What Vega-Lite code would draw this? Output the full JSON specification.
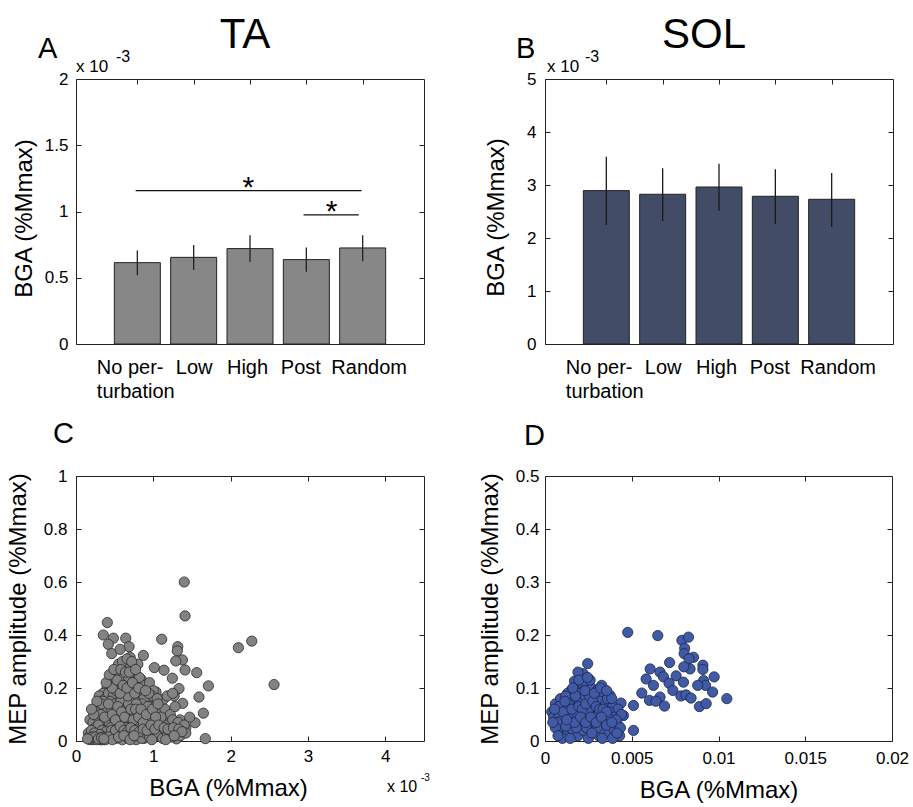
{
  "$schema": "https://vega.github.io/schema/vega-lite/v6.json",
  "background": "white",
  "padding": {"left": 5, "top": 13, "right": 5, "bottom": 2},
  "config": {
    "font": "Liberation Sans",
    "view": {"stroke": "#222", "strokeWidth": 1},
    "axis": {"grid": false, "domain": false, "tickColor": "#222", "tickSize": -5, "tickWidth": 1, "labelFont": "Liberation Sans", "labelFontSize": 17, "labelColor": "#000", "titleFont": "Liberation Sans", "titleFontSize": 24, "titleFontWeight": "normal", "titleColor": "#000", "labelFlush": false, "labelOverlap": false},
    "text": {"font": "Liberation Sans", "color": "#000"}
  },
  "datasets": {
    "bars": [
      {"muscle": "TA", "pos": 1, "cond": "No perturbation", "mean": 0.000614, "lo": 0.000518, "hi": 0.000705},
      {"muscle": "TA", "pos": 2, "cond": "Low", "mean": 0.000654, "lo": 0.000559, "hi": 0.000747},
      {"muscle": "TA", "pos": 3, "cond": "High", "mean": 0.00072, "lo": 0.000619, "hi": 0.00082},
      {"muscle": "TA", "pos": 4, "cond": "Post", "mean": 0.000637, "lo": 0.000546, "hi": 0.000728},
      {"muscle": "TA", "pos": 5, "cond": "Random", "mean": 0.000725, "lo": 0.000624, "hi": 0.00082},
      {"muscle": "SOL", "pos": 1, "cond": "No perturbation", "mean": 0.002894, "lo": 0.002245, "hi": 0.003535},
      {"muscle": "SOL", "pos": 2, "cond": "Low", "mean": 0.002825, "lo": 0.00232, "hi": 0.003315},
      {"muscle": "SOL", "pos": 3, "cond": "High", "mean": 0.002962, "lo": 0.00251, "hi": 0.003403},
      {"muscle": "SOL", "pos": 4, "cond": "Post", "mean": 0.002787, "lo": 0.002264, "hi": 0.003296},
      {"muscle": "SOL", "pos": 5, "cond": "Random", "mean": 0.00273, "lo": 0.002208, "hi": 0.003226}
    ],
    "sig": [
      {"from": 0.97, "to": 4.98, "level": 0.001158, "mid": 2.97},
      {"from": 3.95, "to": 4.93, "level": 0.000974, "mid": 4.45}
    ],
    "ta": [
      {"bga": 0.0014, "mep": 0.6}, {"bga": 0.00141, "mep": 0.472}, {"bga": 0.000405, "mep": 0.447}, {"bga": 0.000353, "mep": 0.4}, {"bga": 0.000483, "mep": 0.388}, {"bga": 0.000643, "mep": 0.388}, {"bga": 0.000686, "mep": 0.356}, {"bga": 0.000418, "mep": 0.365}, {"bga": 0.000462, "mep": 0.33}, {"bga": 0.000871, "mep": 0.323},
      {"bga": 0.001108, "mep": 0.384}, {"bga": 0.001316, "mep": 0.356}, {"bga": 0.00131, "mep": 0.34}, {"bga": 0.001376, "mep": 0.306}, {"bga": 0.00129, "mep": 0.302}, {"bga": 0.00141, "mep": 0.268}, {"bga": 0.001561, "mep": 0.258}, {"bga": 0.001013, "mep": 0.277}, {"bga": 0.001138, "mep": 0.267}, {"bga": 0.001246, "mep": 0.237},
      {"bga": 0.001712, "mep": 0.208}, {"bga": 0.00159, "mep": 0.166}, {"bga": 0.001647, "mep": 0.105}, {"bga": 0.00154, "mep": 0.069}, {"bga": 0.001672, "mep": 0.009}, {"bga": 0.00138, "mep": 0.142}, {"bga": 0.001332, "mep": 0.198}, {"bga": 0.00127, "mep": 0.17}, {"bga": 0.0021, "mep": 0.352}, {"bga": 0.002273, "mep": 0.377},
      {"bga": 0.002561, "mep": 0.213}, {"bga": 0.001035, "mep": 0.185}, {"bga": 0.00113, "mep": 0.157}, {"bga": 0.00113, "mep": 0.1}, {"bga": 0.001151, "mep": 0.082}, {"bga": 0.001044, "mep": 0.057}, {"bga": 0.00108, "mep": 0.035}, {"bga": 0.00121, "mep": 0.03}, {"bga": 0.0013, "mep": 0.008}, {"bga": 0.00095, "mep": 0.03},
      {"bga": 0.00088, "mep": 0.01}, {"bga": 0.000776, "mep": 0.005}, {"bga": 0.00142, "mep": 0.05}, {"bga": 0.001345, "mep": 0.08}, {"bga": 0.00147, "mep": 0.09}, {"bga": 0.00057, "mep": 0.346}, {"bga": 0.0007, "mep": 0.316},
      {"bga": 0.00055, "mep": 0.29}, {"bga": 0.00062, "mep": 0.27}, {"bga": 0.0007, "mep": 0.28}, {"bga": 0.00075, "mep": 0.25}, {"bga": 0.0006, "mep": 0.3}, {"bga": 0.00066, "mep": 0.31}, {"bga": 0.0008, "mep": 0.29}, {"bga": 0.00052, "mep": 0.25}, {"bga": 0.00085, "mep": 0.23}, {"bga": 0.00072, "mep": 0.3},
      {"bga": 0.00045, "mep": 0.22}, {"bga": 0.0005, "mep": 0.21}, {"bga": 0.00058, "mep": 0.23}, {"bga": 0.00064, "mep": 0.22}, {"bga": 0.0007, "mep": 0.21}, {"bga": 0.00078, "mep": 0.2}, {"bga": 0.00088, "mep": 0.21}, {"bga": 0.00095, "mep": 0.22}, {"bga": 0.001, "mep": 0.19}, {"bga": 0.0004, "mep": 0.2},
      {"bga": 0.00035, "mep": 0.18}, {"bga": 0.00062, "mep": 0.24}, {"bga": 0.00082, "mep": 0.24}, {"bga": 0.00055, "mep": 0.2}, {"bga": 0.00068, "mep": 0.24},
      {"bga": 0.0003, "mep": 0.17}, {"bga": 0.00038, "mep": 0.16}, {"bga": 0.00042, "mep": 0.18}, {"bga": 0.00048, "mep": 0.17}, {"bga": 0.00052, "mep": 0.19}, {"bga": 0.00058, "mep": 0.16}, {"bga": 0.00062, "mep": 0.18}, {"bga": 0.00066, "mep": 0.15}, {"bga": 0.00072, "mep": 0.17}, {"bga": 0.00078, "mep": 0.16},
      {"bga": 0.00085, "mep": 0.18}, {"bga": 0.00092, "mep": 0.15}, {"bga": 0.00098, "mep": 0.17}, {"bga": 0.00105, "mep": 0.16}, {"bga": 0.00118, "mep": 0.17}, {"bga": 0.00125, "mep": 0.18}, {"bga": 0.00044, "mep": 0.15}, {"bga": 0.00035, "mep": 0.15}, {"bga": 0.0007, "mep": 0.19}, {"bga": 0.00088, "mep": 0.16},
      {"bga": 0.00025, "mep": 0.12}, {"bga": 0.0003, "mep": 0.11}, {"bga": 0.00036, "mep": 0.13}, {"bga": 0.0004, "mep": 0.11}, {"bga": 0.00046, "mep": 0.12}, {"bga": 0.0005, "mep": 0.14}, {"bga": 0.00055, "mep": 0.11}, {"bga": 0.0006, "mep": 0.13}, {"bga": 0.00065, "mep": 0.12}, {"bga": 0.0007, "mep": 0.1},
      {"bga": 0.00075, "mep": 0.13}, {"bga": 0.0008, "mep": 0.11}, {"bga": 0.00085, "mep": 0.14}, {"bga": 0.0009, "mep": 0.12}, {"bga": 0.00096, "mep": 0.1}, {"bga": 0.00102, "mep": 0.13}, {"bga": 0.00108, "mep": 0.11}, {"bga": 0.00115, "mep": 0.12}, {"bga": 0.00122, "mep": 0.1}, {"bga": 0.00128, "mep": 0.13},
      {"bga": 0.00033, "mep": 0.14}, {"bga": 0.00058, "mep": 0.15}, {"bga": 0.00068, "mep": 0.14}, {"bga": 0.00078, "mep": 0.14}, {"bga": 0.00093, "mep": 0.13},
      {"bga": 0.00018, "mep": 0.08}, {"bga": 0.00022, "mep": 0.07}, {"bga": 0.00028, "mep": 0.09}, {"bga": 0.00033, "mep": 0.06}, {"bga": 0.00038, "mep": 0.08}, {"bga": 0.00043, "mep": 0.07}, {"bga": 0.00048, "mep": 0.09}, {"bga": 0.00053, "mep": 0.06}, {"bga": 0.00058, "mep": 0.08}, {"bga": 0.00063, "mep": 0.07},
      {"bga": 0.00068, "mep": 0.09}, {"bga": 0.00073, "mep": 0.06}, {"bga": 0.00078, "mep": 0.08}, {"bga": 0.00083, "mep": 0.07}, {"bga": 0.00088, "mep": 0.09}, {"bga": 0.00093, "mep": 0.06}, {"bga": 0.00098, "mep": 0.08}, {"bga": 0.00104, "mep": 0.07}, {"bga": 0.0011, "mep": 0.09}, {"bga": 0.00118, "mep": 0.06},
      {"bga": 0.00125, "mep": 0.08}, {"bga": 0.00132, "mep": 0.07}, {"bga": 0.0014, "mep": 0.06}, {"bga": 0.00025, "mep": 0.05}, {"bga": 0.00045, "mep": 0.05}, {"bga": 0.00065, "mep": 0.05}, {"bga": 0.00085, "mep": 0.05}, {"bga": 0.001, "mep": 0.05}, {"bga": 0.00056, "mep": 0.1}, {"bga": 0.00076, "mep": 0.1},
      {"bga": 0.00016, "mep": 0.03}, {"bga": 0.0002, "mep": 0.02}, {"bga": 0.00024, "mep": 0.01}, {"bga": 0.00028, "mep": 0.03}, {"bga": 0.00032, "mep": 0.005}, {"bga": 0.00036, "mep": 0.02}, {"bga": 0.0004, "mep": 0.01}, {"bga": 0.00044, "mep": 0.03}, {"bga": 0.00048, "mep": 0.02}, {"bga": 0.00052, "mep": 0.01},
      {"bga": 0.00056, "mep": 0.03}, {"bga": 0.0006, "mep": 0.005}, {"bga": 0.00064, "mep": 0.02}, {"bga": 0.00068, "mep": 0.01}, {"bga": 0.00072, "mep": 0.03}, {"bga": 0.0008, "mep": 0.02}, {"bga": 0.00085, "mep": 0.01}, {"bga": 0.0009, "mep": 0.03}, {"bga": 0.00095, "mep": 0.015}, {"bga": 0.00105, "mep": 0.02},
      {"bga": 0.00112, "mep": 0.01}, {"bga": 0.00118, "mep": 0.03}, {"bga": 0.00124, "mep": 0.015}, {"bga": 0.00135, "mep": 0.02}, {"bga": 0.00142, "mep": 0.03}, {"bga": 0.00018, "mep": 0.005}, {"bga": 0.00022, "mep": 0.005}, {"bga": 0.00027, "mep": 0.005}, {"bga": 0.0003, "mep": 0.01}, {"bga": 0.00034, "mep": 0.005},
      {"bga": 0.00038, "mep": 0.005}, {"bga": 0.00017, "mep": 0.015}, {"bga": 0.00026, "mep": 0.02},
      {"bga": 0.00032, "mep": 0.1}, {"bga": 0.00037, "mep": 0.09}, {"bga": 0.00042, "mep": 0.14}, {"bga": 0.00047, "mep": 0.1}, {"bga": 0.00051, "mep": 0.08}, {"bga": 0.00054, "mep": 0.13}, {"bga": 0.00059, "mep": 0.11}, {"bga": 0.00063, "mep": 0.09}, {"bga": 0.00067, "mep": 0.17}, {"bga": 0.00071, "mep": 0.12},
      {"bga": 0.00074, "mep": 0.08}, {"bga": 0.00077, "mep": 0.12}, {"bga": 0.00081, "mep": 0.09}, {"bga": 0.00084, "mep": 0.12}, {"bga": 0.00087, "mep": 0.07}, {"bga": 0.00091, "mep": 0.1}, {"bga": 0.00094, "mep": 0.18}, {"bga": 0.00099, "mep": 0.12}, {"bga": 0.00103, "mep": 0.09}, {"bga": 0.00106, "mep": 0.14},
      {"bga": 0.00047, "mep": 0.2}, {"bga": 0.00053, "mep": 0.23}, {"bga": 0.00057, "mep": 0.18}, {"bga": 0.00061, "mep": 0.21}, {"bga": 0.00066, "mep": 0.2}, {"bga": 0.00073, "mep": 0.22}, {"bga": 0.00076, "mep": 0.18}, {"bga": 0.00081, "mep": 0.2}, {"bga": 0.0009, "mep": 0.19}, {"bga": 0.00039, "mep": 0.22},
      {"bga": 0.00043, "mep": 0.25}, {"bga": 0.00049, "mep": 0.27}, {"bga": 0.00058, "mep": 0.27}, {"bga": 0.00064, "mep": 0.26}, {"bga": 0.00069, "mep": 0.26}, {"bga": 0.00077, "mep": 0.27}, {"bga": 0.00027, "mep": 0.15}, {"bga": 0.00023, "mep": 0.1}, {"bga": 0.0002, "mep": 0.12}, {"bga": 0.00029, "mep": 0.06},
      {"bga": 0.00034, "mep": 0.04}, {"bga": 0.00039, "mep": 0.035}, {"bga": 0.00046, "mep": 0.04}, {"bga": 0.00051, "mep": 0.04}, {"bga": 0.00057, "mep": 0.055}, {"bga": 0.00062, "mep": 0.04}, {"bga": 0.00067, "mep": 0.035}, {"bga": 0.00071, "mep": 0.05}, {"bga": 0.00076, "mep": 0.04}, {"bga": 0.00082, "mep": 0.035},
      {"bga": 0.00087, "mep": 0.045}, {"bga": 0.00092, "mep": 0.04}, {"bga": 0.00097, "mep": 0.06}, {"bga": 0.00102, "mep": 0.045}, {"bga": 0.00107, "mep": 0.06}, {"bga": 0.00114, "mep": 0.05}, {"bga": 0.00119, "mep": 0.045}, {"bga": 0.00126, "mep": 0.05}, {"bga": 0.00133, "mep": 0.045}, {"bga": 0.00137, "mep": 0.035},
      {"bga": 0.0002, "mep": 0.04}, {"bga": 0.00024, "mep": 0.03}, {"bga": 0.00031, "mep": 0.025}, {"bga": 0.00035, "mep": 0.015}, {"bga": 0.00042, "mep": 0.015}, {"bga": 0.00047, "mep": 0.005}, {"bga": 0.00055, "mep": 0.015}, {"bga": 0.00062, "mep": 0.02}, {"bga": 0.0007, "mep": 0.005}, {"bga": 0.00075, "mep": 0.02},
      {"bga": 0.00098, "mep": 0.005}, {"bga": 0.00116, "mep": 0.005}, {"bga": 0.00127, "mep": 0.02}, {"bga": 0.00019, "mep": 0.01}, {"bga": 0.00021, "mep": 0.015}, {"bga": 0.00025, "mep": 0.015}, {"bga": 0.00029, "mep": 0.008}, {"bga": 0.00033, "mep": 0.012}, {"bga": 0.00036, "mep": 0.008}, {"bga": 0.00015, "mep": 0.008}
    ],
    "sol": [
      {"bga": 0.00477, "mep": 0.205}, {"bga": 0.0065, "mep": 0.199}, {"bga": 0.00789, "mep": 0.19}, {"bga": 0.00827, "mep": 0.196}, {"bga": 0.00805, "mep": 0.175}, {"bga": 0.00802, "mep": 0.165}, {"bga": 0.00856, "mep": 0.158}, {"bga": 0.0083, "mep": 0.155}, {"bga": 0.00718, "mep": 0.148}, {"bga": 0.0091, "mep": 0.143},
      {"bga": 0.0091, "mep": 0.135}, {"bga": 0.00606, "mep": 0.136}, {"bga": 0.00663, "mep": 0.13}, {"bga": 0.00836, "mep": 0.136}, {"bga": 0.008, "mep": 0.14}, {"bga": 0.00583, "mep": 0.117}, {"bga": 0.00625, "mep": 0.105}, {"bga": 0.00683, "mep": 0.121}, {"bga": 0.00756, "mep": 0.123}, {"bga": 0.00715, "mep": 0.109},
      {"bga": 0.00737, "mep": 0.0955}, {"bga": 0.00798, "mep": 0.111}, {"bga": 0.00914, "mep": 0.114}, {"bga": 0.00975, "mep": 0.121}, {"bga": 0.00925, "mep": 0.105}, {"bga": 0.0088, "mep": 0.105}, {"bga": 0.00966, "mep": 0.0924}, {"bga": 0.00558, "mep": 0.0905}, {"bga": 0.00602, "mep": 0.0767}, {"bga": 0.00663, "mep": 0.083},
      {"bga": 0.00639, "mep": 0.075}, {"bga": 0.00689, "mep": 0.066}, {"bga": 0.00783, "mep": 0.085}, {"bga": 0.00813, "mep": 0.087}, {"bga": 0.00842, "mep": 0.081}, {"bga": 0.0089, "mep": 0.065}, {"bga": 0.00929, "mep": 0.0705}, {"bga": 0.01048, "mep": 0.08}, {"bga": 0.0051, "mep": 0.067}, {"bga": 0.0051, "mep": 0.02},
      {"bga": 0.00452, "mep": 0.048}, {"bga": 0.00438, "mep": 0.0716},
      {"bga": 0.00246, "mep": 0.146}, {"bga": 0.0022, "mep": 0.127}, {"bga": 0.0019, "mep": 0.13}, {"bga": 0.0017, "mep": 0.113}, {"bga": 0.00327, "mep": 0.105}, {"bga": 0.00375, "mep": 0.086}, {"bga": 0.00039, "mep": 0.055}, {"bga": 0.00087, "mep": 0.077},
      {"bga": 0.0015, "mep": 0.095}, {"bga": 0.0018, "mep": 0.1}, {"bga": 0.0021, "mep": 0.11}, {"bga": 0.0024, "mep": 0.105}, {"bga": 0.0027, "mep": 0.1}, {"bga": 0.003, "mep": 0.095}, {"bga": 0.002, "mep": 0.09}, {"bga": 0.0026, "mep": 0.115}, {"bga": 0.0013, "mep": 0.09}, {"bga": 0.0034, "mep": 0.09},
      {"bga": 0.0006, "mep": 0.07}, {"bga": 0.0009, "mep": 0.08}, {"bga": 0.0011, "mep": 0.065}, {"bga": 0.0014, "mep": 0.08}, {"bga": 0.0017, "mep": 0.07}, {"bga": 0.002, "mep": 0.075}, {"bga": 0.0023, "mep": 0.085}, {"bga": 0.0026, "mep": 0.07}, {"bga": 0.0029, "mep": 0.08}, {"bga": 0.0032, "mep": 0.075},
      {"bga": 0.0035, "mep": 0.07}, {"bga": 0.0039, "mep": 0.065}, {"bga": 0.0042, "mep": 0.06}, {"bga": 0.0012, "mep": 0.085}, {"bga": 0.0028, "mep": 0.06}, {"bga": 0.0036, "mep": 0.08},
      {"bga": 0.0005, "mep": 0.045}, {"bga": 0.0008, "mep": 0.05}, {"bga": 0.001, "mep": 0.04}, {"bga": 0.0013, "mep": 0.055}, {"bga": 0.0016, "mep": 0.045}, {"bga": 0.0019, "mep": 0.05}, {"bga": 0.0022, "mep": 0.04}, {"bga": 0.0025, "mep": 0.055}, {"bga": 0.0028, "mep": 0.045}, {"bga": 0.0031, "mep": 0.05},
      {"bga": 0.0034, "mep": 0.04}, {"bga": 0.0037, "mep": 0.055}, {"bga": 0.004, "mep": 0.045}, {"bga": 0.0044, "mep": 0.05}, {"bga": 0.0015, "mep": 0.035}, {"bga": 0.002, "mep": 0.03}, {"bga": 0.0026, "mep": 0.03}, {"bga": 0.0032, "mep": 0.035}, {"bga": 0.0036, "mep": 0.045}, {"bga": 0.0007, "mep": 0.035},
      {"bga": 0.0009, "mep": 0.02}, {"bga": 0.0011, "mep": 0.01}, {"bga": 0.0013, "mep": 0.015}, {"bga": 0.0016, "mep": 0.02}, {"bga": 0.0019, "mep": 0.01}, {"bga": 0.0022, "mep": 0.02}, {"bga": 0.0025, "mep": 0.005}, {"bga": 0.0028, "mep": 0.02}, {"bga": 0.0031, "mep": 0.01}, {"bga": 0.0034, "mep": 0.02},
      {"bga": 0.0037, "mep": 0.015}, {"bga": 0.004, "mep": 0.02}, {"bga": 0.0043, "mep": 0.01}, {"bga": 0.001, "mep": 0.005}, {"bga": 0.0018, "mep": 0.025}, {"bga": 0.0024, "mep": 0.025}, {"bga": 0.003, "mep": 0.025}, {"bga": 0.0039, "mep": 0.005}, {"bga": 0.0042, "mep": 0.03}, {"bga": 0.0012, "mep": 0.028},
      {"bga": 0.0008, "mep": 0.065}, {"bga": 0.00105, "mep": 0.055}, {"bga": 0.00135, "mep": 0.07}, {"bga": 0.00155, "mep": 0.06}, {"bga": 0.00175, "mep": 0.085}, {"bga": 0.00195, "mep": 0.065}, {"bga": 0.00215, "mep": 0.06}, {"bga": 0.00235, "mep": 0.07}, {"bga": 0.00255, "mep": 0.085}, {"bga": 0.00275, "mep": 0.075},
      {"bga": 0.00295, "mep": 0.065}, {"bga": 0.00315, "mep": 0.06}, {"bga": 0.00335, "mep": 0.06}, {"bga": 0.00355, "mep": 0.055}, {"bga": 0.00385, "mep": 0.08}, {"bga": 0.0041, "mep": 0.04}, {"bga": 0.00435, "mep": 0.025}, {"bga": 0.0006, "mep": 0.025}, {"bga": 0.00075, "mep": 0.01}, {"bga": 0.00145, "mep": 0.005},
      {"bga": 0.0017, "mep": 0.035}, {"bga": 0.00205, "mep": 0.045}, {"bga": 0.00235, "mep": 0.035}, {"bga": 0.00265, "mep": 0.045}, {"bga": 0.00295, "mep": 0.035}, {"bga": 0.00325, "mep": 0.045}, {"bga": 0.00355, "mep": 0.03}, {"bga": 0.00385, "mep": 0.035}, {"bga": 0.00415, "mep": 0.015}, {"bga": 0.00125, "mep": 0.04},
      {"bga": 0.00045, "mep": 0.035}, {"bga": 0.00055, "mep": 0.06}, {"bga": 0.0016, "mep": 0.1}, {"bga": 0.00195, "mep": 0.115}, {"bga": 0.0023, "mep": 0.095}, {"bga": 0.00285, "mep": 0.09}, {"bga": 0.0032, "mep": 0.1}, {"bga": 0.00245, "mep": 0.12}, {"bga": 0.00355, "mep": 0.095}, {"bga": 0.00115, "mep": 0.075},
      {"bga": 0.0027, "mep": 0.015}, {"bga": 0.0033, "mep": 0.005}
    ]
  },
  "spacing": 17,
  "vconcat": [
    {
      "spacing": 59,
      "hconcat": [
        {
          "width": 348, "height": 265,
          "resolve": {"axis": {"x": "independent", "y": "independent"}},
          "layer": [
            {
              "data": {"name": "bars"},
              "transform": [{"filter": "datum.muscle == 'TA'"}],
              "mark": {"type": "bar", "orient": "vertical", "size": 46, "fill": "#878787", "stroke": "#222", "strokeWidth": 1},
              "encoding": {
                "x": {"field": "pos", "type": "quantitative", "scale": {"domain": [0, 6], "nice": false, "zero": false},
                  "axis": {"values": [1, 2, 3, 4, 5], "title": null, "labelFontSize": 20, "labelLineHeight": 24, "labelPadding": 18, "labelBaseline": "top",
                    "labelExpr": "datum.value == 1 ? ['No per-', 'turbation'] : datum.value == 2 ? 'Low' : datum.value == 3 ? 'High' : datum.value == 4 ? 'Post' : 'Random'",
                    "labelAlign": {"condition": {"test": "datum.value == 1", "value": "left"}, "value": "center"},
                    "labelOffset": {"condition": [{"test": "datum.value == 1", "value": -41}, {"test": "datum.value == 3", "value": -3}, {"test": "datum.value == 4", "value": -6}, {"test": "datum.value == 5", "value": 6}], "value": 0}}},
                "y": {"field": "mean", "type": "quantitative", "scale": {"domain": [0, 0.002], "nice": false},
                  "axis": {"values": [0, 0.0005, 0.001, 0.0015, 0.002], "labelExpr": "round(datum.value * 10000) / 10", "title": "BGA (%Mmax)", "labelPadding": 13, "titlePadding": 8, "titleY": 139}}
              }
            },
            {
              "data": {"name": "bars"},
              "transform": [{"filter": "datum.muscle == 'TA'"}],
              "mark": {"type": "rule", "color": "#222", "strokeWidth": 1.3},
              "encoding": {
                "x": {"field": "pos", "type": "quantitative", "axis": null},
                "y": {"field": "lo", "type": "quantitative", "axis": null},
                "y2": {"field": "hi"}
              }
            },
            {
              "data": {"name": "sig"},
              "mark": {"type": "rule", "color": "#111", "strokeWidth": 1.3},
              "encoding": {
                "x": {"field": "from", "type": "quantitative", "axis": null},
                "x2": {"field": "to"},
                "y": {"field": "level", "type": "quantitative", "axis": null}
              }
            },
            {
              "data": {"name": "sig"},
              "mark": {"type": "text", "text": "*", "fontSize": 30, "align": "center", "baseline": "alphabetic", "dy": 6},
              "encoding": {
                "x": {"field": "mid", "type": "quantitative", "axis": null},
                "y": {"field": "level", "type": "quantitative", "axis": null}
              }
            },
            {
              "data": {"name": "bars"},
              "transform": [{"filter": "datum.muscle == 'TA'"}],
              "mark": {"type": "point", "opacity": 0},
              "encoding": {
                "x": {"field": "pos", "type": "quantitative", "axis": {"orient": "top", "values": [1, 2, 3, 4, 5], "labels": false, "title": null}},
                "y": {"field": "mean", "type": "quantitative", "axis": {"orient": "right", "values": [0.0005, 0.001, 0.0015], "labels": false, "title": null}}
              }
            },
            {
              "data": {"values": [{"t": "TA"}]},
              "mark": {"type": "text", "fontSize": 42, "align": "center", "baseline": "alphabetic", "dx": -5, "dy": -31},
              "encoding": {"x": {"datum": 3, "type": "quantitative", "axis": null}, "y": {"datum": 0.002, "type": "quantitative", "axis": null}, "text": {"field": "t"}}
            },
            {
              "data": {"values": [{"t": "A"}]},
              "mark": {"type": "text", "fontSize": 29, "align": "left", "baseline": "alphabetic", "dx": -43, "dy": -21},
              "encoding": {"x": {"datum": 0, "type": "quantitative", "axis": null}, "y": {"datum": 0.002, "type": "quantitative", "axis": null}, "text": {"field": "t"}}
            },
            {
              "data": {"values": [{"t": "x 10"}]},
              "mark": {"type": "text", "fontSize": 17, "align": "left", "baseline": "alphabetic", "dx": -5, "dy": -7},
              "encoding": {"x": {"datum": 0, "type": "quantitative", "axis": null}, "y": {"datum": 0.002, "type": "quantitative", "axis": null}, "text": {"field": "t"}}
            },
            {
              "data": {"values": [{"t": "-3"}]},
              "mark": {"type": "text", "fontSize": 16, "align": "left", "baseline": "alphabetic", "dx": 35, "dy": -17},
              "encoding": {"x": {"datum": 0, "type": "quantitative", "axis": null}, "y": {"datum": 0.002, "type": "quantitative", "axis": null}, "text": {"field": "t"}}
            }
          ]
        },
        {
          "width": 348, "height": 265,
          "resolve": {"axis": {"x": "independent", "y": "independent"}},
          "layer": [
            {
              "data": {"name": "bars"},
              "transform": [{"filter": "datum.muscle == 'SOL'"}],
              "mark": {"type": "bar", "orient": "vertical", "size": 46, "fill": "#434c66", "stroke": "#222", "strokeWidth": 1},
              "encoding": {
                "x": {"field": "pos", "type": "quantitative", "scale": {"domain": [0, 6], "nice": false, "zero": false},
                  "axis": {"values": [1, 2, 3, 4, 5], "title": null, "labelFontSize": 20, "labelLineHeight": 24, "labelPadding": 18, "labelBaseline": "top",
                    "labelExpr": "datum.value == 1 ? ['No per-', 'turbation'] : datum.value == 2 ? 'Low' : datum.value == 3 ? 'High' : datum.value == 4 ? 'Post' : 'Random'",
                    "labelAlign": {"condition": {"test": "datum.value == 1", "value": "left"}, "value": "center"},
                    "labelOffset": {"condition": [{"test": "datum.value == 1", "value": -41}, {"test": "datum.value == 3", "value": -3}, {"test": "datum.value == 4", "value": -6}, {"test": "datum.value == 5", "value": 6}], "value": 0}}},
                "y": {"field": "mean", "type": "quantitative", "scale": {"domain": [0, 0.005], "nice": false},
                  "axis": {"values": [0, 0.001, 0.002, 0.003, 0.004, 0.005], "labelExpr": "round(datum.value * 1000)", "title": "BGA (%Mmax)", "labelPadding": 14, "titlePadding": 18, "titleY": 138}}
              }
            },
            {
              "data": {"name": "bars"},
              "transform": [{"filter": "datum.muscle == 'SOL'"}],
              "mark": {"type": "rule", "color": "#1a1a1a", "strokeWidth": 1.3},
              "encoding": {
                "x": {"field": "pos", "type": "quantitative", "axis": null},
                "y": {"field": "lo", "type": "quantitative", "axis": null},
                "y2": {"field": "hi"}
              }
            },
            {
              "data": {"name": "bars"},
              "transform": [{"filter": "datum.muscle == 'SOL'"}],
              "mark": {"type": "point", "opacity": 0},
              "encoding": {
                "x": {"field": "pos", "type": "quantitative", "axis": {"orient": "top", "values": [1, 2, 3, 4, 5], "labels": false, "title": null}},
                "y": {"field": "mean", "type": "quantitative", "axis": {"orient": "right", "values": [0.001, 0.002, 0.003, 0.004], "labels": false, "title": null}}
              }
            },
            {
              "data": {"values": [{"t": "SOL"}]},
              "mark": {"type": "text", "fontSize": 42, "align": "center", "baseline": "alphabetic", "dx": -15, "dy": -31},
              "encoding": {"x": {"datum": 3, "type": "quantitative", "axis": null}, "y": {"datum": 0.005, "type": "quantitative", "axis": null}, "text": {"field": "t"}}
            },
            {
              "data": {"values": [{"t": "B"}]},
              "mark": {"type": "text", "fontSize": 29, "align": "left", "baseline": "alphabetic", "dx": -34, "dy": -21},
              "encoding": {"x": {"datum": 0, "type": "quantitative", "axis": null}, "y": {"datum": 0.005, "type": "quantitative", "axis": null}, "text": {"field": "t"}}
            },
            {
              "data": {"values": [{"t": "x 10"}]},
              "mark": {"type": "text", "fontSize": 17, "align": "left", "baseline": "alphabetic", "dx": -3, "dy": -7},
              "encoding": {"x": {"datum": 0, "type": "quantitative", "axis": null}, "y": {"datum": 0.005, "type": "quantitative", "axis": null}, "text": {"field": "t"}}
            },
            {
              "data": {"values": [{"t": "-3"}]},
              "mark": {"type": "text", "fontSize": 16, "align": "left", "baseline": "alphabetic", "dx": 35, "dy": -17},
              "encoding": {"x": {"datum": 0, "type": "quantitative", "axis": null}, "y": {"datum": 0.005, "type": "quantitative", "axis": null}, "text": {"field": "t"}}
            }
          ]
        }
      ]
    },
    {
      "spacing": 46,
      "hconcat": [
        {
          "width": 348, "height": 265,
          "resolve": {"axis": {"x": "independent", "y": "independent"}},
          "layer": [
            {
              "data": {"name": "ta"},
              "mark": {"type": "circle", "size": 105, "fill": "#828282", "stroke": "#2a2a2a", "strokeWidth": 0.8, "opacity": 1},
              "encoding": {
                "x": {"field": "bga", "type": "quantitative", "scale": {"domain": [0, 0.0045], "nice": false, "zero": false},
                  "axis": {"values": [0, 0.001, 0.002, 0.003, 0.004], "labelExpr": "round(datum.value * 1000)", "title": "BGA (%Mmax)", "labelPadding": 12, "titlePadding": 12, "titleX": 152}},
                "y": {"field": "mep", "type": "quantitative", "scale": {"domain": [0, 1], "nice": false},
                  "axis": {"values": [0, 0.2, 0.4, 0.6, 0.8, 1], "labelExpr": "format(datum.value, '~g')", "title": "MEP amplitude (%Mmax)", "labelPadding": 14, "titlePadding": 13}}
              }
            },
            {
              "data": {"name": "ta"},
              "mark": {"type": "point", "opacity": 0},
              "encoding": {
                "x": {"field": "bga", "type": "quantitative", "axis": {"orient": "top", "values": [0.001, 0.002, 0.003, 0.004], "labels": false, "title": null}},
                "y": {"field": "mep", "type": "quantitative", "axis": {"orient": "right", "values": [0.2, 0.4, 0.6, 0.8], "labels": false, "title": null}}
              }
            },
            {
              "data": {"values": [{"t": "C"}]},
              "mark": {"type": "text", "fontSize": 29, "align": "left", "baseline": "alphabetic", "dx": -23, "dy": -33},
              "encoding": {"x": {"datum": 0, "type": "quantitative", "axis": null}, "y": {"datum": 1, "type": "quantitative", "axis": null}, "text": {"field": "t"}}
            },
            {
              "data": {"values": [{"t": "x 10"}]},
              "mark": {"type": "text", "fontSize": 16, "align": "left", "baseline": "alphabetic", "dx": -37, "dy": 51},
              "encoding": {"x": {"datum": 0.0045, "type": "quantitative", "axis": null}, "y": {"datum": 0, "type": "quantitative", "axis": null}, "text": {"field": "t"}}
            },
            {
              "data": {"values": [{"t": "-3"}]},
              "mark": {"type": "text", "fontSize": 10, "align": "left", "baseline": "alphabetic", "dx": -3, "dy": 40},
              "encoding": {"x": {"datum": 0.0045, "type": "quantitative", "axis": null}, "y": {"datum": 0, "type": "quantitative", "axis": null}, "text": {"field": "t"}}
            }
          ]
        },
        {
          "width": 347, "height": 265,
          "resolve": {"axis": {"x": "independent", "y": "independent"}},
          "layer": [
            {
              "data": {"name": "sol"},
              "mark": {"type": "circle", "size": 105, "fill": "#405aa5", "stroke": "#1c2448", "strokeWidth": 0.8, "opacity": 1},
              "encoding": {
                "x": {"field": "bga", "type": "quantitative", "scale": {"domain": [0, 0.02], "nice": false, "zero": false},
                  "axis": {"values": [0, 0.005, 0.01, 0.015, 0.02], "labelExpr": "format(datum.value, '~g')", "title": "BGA (%Mmax)", "labelPadding": 14, "titlePadding": 12}},
                "y": {"field": "mep", "type": "quantitative", "scale": {"domain": [0, 0.5], "nice": false},
                  "axis": {"values": [0, 0.1, 0.2, 0.3, 0.4, 0.5], "labelExpr": "format(datum.value, '~g')", "title": "MEP amplitude (%Mmax)", "labelPadding": 11, "titlePadding": 13}}
              }
            },
            {
              "data": {"name": "sol"},
              "mark": {"type": "point", "opacity": 0},
              "encoding": {
                "x": {"field": "bga", "type": "quantitative", "axis": {"orient": "top", "values": [0.005, 0.01, 0.015], "labels": false, "title": null}},
                "y": {"field": "mep", "type": "quantitative", "axis": {"orient": "right", "values": [0.1, 0.2, 0.3, 0.4], "labels": false, "title": null}}
              }
            },
            {
              "data": {"values": [{"t": "D"}]},
              "mark": {"type": "text", "fontSize": 29, "align": "left", "baseline": "alphabetic", "dx": -21, "dy": -31},
              "encoding": {"x": {"datum": 0, "type": "quantitative", "axis": null}, "y": {"datum": 0.5, "type": "quantitative", "axis": null}, "text": {"field": "t"}}
            }
          ]
        }
      ]
    }
  ]
}
